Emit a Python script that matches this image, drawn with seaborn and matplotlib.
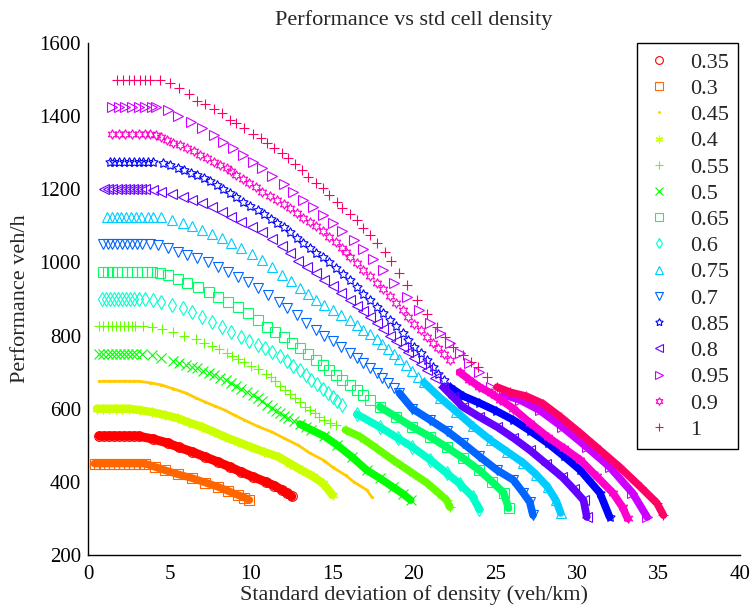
import colorsys
import pandas as pd
import matplotlib
matplotlib.use("Agg")
import matplotlib.pyplot as plt
from matplotlib.lines import Line2D
import seaborn as sns

# legend order of the series (demand ratio)
labels = ["0.35", "0.3", "0.45", "0.4", "0.55", "0.5", "0.65", "0.6",
          "0.75", "0.7", "0.85", "0.8", "0.95", "0.9", "1"]

# std of density (veh/km) and performance (veh/h)
x_035 = [0.7, 1.0, 1.3, 1.6, 1.9, 2.2, 2.5, 2.8, 3.1, 4.0, 4.9, 5.6, 6.4, 7.2, 8.0, 8.7,
         9.4, 10.1, 10.9, 11.4, 11.9, 12.2, 12.5]
y_035 = [525] * 9 + [517, 506, 494, 482, 468, 454, 441, 427, 414, 400, 390, 378, 370, 360]

x_030 = [0.4, 0.7, 1.0, 1.3, 1.6, 1.9, 2.2, 2.5, 2.8, 3.1, 3.5, 4.1, 4.7, 5.5, 6.4, 7.2,
         8.0, 8.6, 9.2, 9.6, 9.9]
y_030 = [450] * 11 + [441, 432, 421, 410, 398, 386, 375, 364, 357, 350]

x_045 = [0.7, 1.0, 1.3, 1.6, 1.9, 2.2, 2.5, 2.8, 3.1, 3.8, 4.5, 5.2, 6.0, 6.6, 7.2, 7.8,
         8.4, 9.0, 9.6, 10.4, 11.3, 12.0, 12.9, 13.6, 14.5, 15.0, 15.8, 16.3, 17.1, 17.4]
y_045 = [675] * 9 + [671, 665, 655, 643, 630, 618, 607, 596, 582, 569, 552, 536, 520, 500,
                     479, 458, 440, 418, 400, 378, 359]

x_040 = [0.55, 0.9, 1.3, 1.7, 2.1, 2.5, 3.2, 3.9, 4.7, 5.5, 6.2, 7.0, 7.7, 8.4, 9.2, 10.0,
         10.8, 11.7, 12.4, 13.1, 13.8, 14.4, 15.0]
y_040 = [600] * 6 + [596, 591, 583, 574, 562, 550, 537, 523, 509, 495, 482, 468, 450, 432,
                     415, 397, 364]

x_055 = [0.7, 0.95, 1.2, 1.45, 1.7, 1.95, 2.2, 2.45, 2.7, 2.9,
         3.4, 3.9, 4.55, 5.2, 5.9, 6.6, 7.1, 7.6, 8.05, 8.5, 8.85, 9.2, 9.6, 10.0, 10.45,
         10.9, 11.2, 11.5, 11.8, 12.1, 12.4, 12.7, 13.0, 13.3, 13.6, 13.9, 14.2, 14.5, 14.85,
         15.2, 15.8, 16.7, 17.7, 18.7, 19.7, 20.8, 21.5, 22.0, 22.2]
y_055 = [825] * 10 + [825, 823, 817, 810, 800, 790, 781, 771, 762, 752, 745, 737, 728, 718,
                      708, 696, 686, 675, 663, 651, 640, 628, 617, 605, 596, 587, 578, 569,
                      562, 555, 542, 523, 492, 460, 430, 397, 370, 350, 331]

x_050 = [0.7, 0.95, 1.2, 1.45, 1.7, 1.95, 2.2, 2.45, 2.7, 2.95, 3.3,
         3.9, 4.5, 5.2, 5.6, 6.0, 6.35, 6.7, 7.05, 7.4, 7.75, 8.1, 8.45, 8.8, 9.1, 9.4, 9.75,
         10.1, 10.4, 10.7, 11.0, 11.3, 11.55, 11.8, 12.05, 12.3, 12.65, 13.0, 13.35, 13.7,
         14.5, 15.3, 16.2, 17.1, 17.9, 18.7, 19.3, 19.8]
y_050 = [750] * 11 + [746, 739, 730, 725, 720, 715, 710, 704, 698, 692, 685, 678, 670, 663,
                      655, 647, 638, 629, 620, 611, 602, 595, 588, 581, 575, 566, 558, 550,
                      542, 525, 500, 468, 432, 410, 386, 368, 350]

x_065 = [0.9, 1.2, 1.5, 1.8, 2.1, 2.4, 2.7, 3.0, 3.3, 3.6, 3.9,
         4.4, 4.9, 5.5, 6.1, 6.75, 7.4, 8.0, 8.6, 9.2, 9.8, 10.4, 11.0, 11.5, 12.0, 12.5,
         13.0, 13.5, 14.0, 14.4, 14.8, 15.2, 15.6, 16.05, 16.5, 16.9, 17.3,
         17.9, 18.9, 19.9, 21.0, 22.0, 23.0, 24.0, 24.8, 25.5, 25.8]
y_065 = [975] * 11 + [971, 966, 956, 944, 932, 919, 906, 892, 877, 862, 843, 823, 810, 796,
                      781, 765, 749, 733, 720, 706, 692, 679, 665, 650, 637, 624,
                      605, 578, 550, 523, 495, 465, 432, 400, 370, 328]

x_060 = [0.85, 1.1, 1.35, 1.6, 1.85, 2.1, 2.35, 2.6, 2.85, 3.1, 3.5,
         4.0, 4.5, 5.15, 5.8, 6.4, 7.0, 7.6, 8.2, 8.8, 9.4, 9.9, 10.4, 10.85, 11.3, 11.75,
         12.2, 12.6, 13.0, 13.35, 13.7, 14.05, 14.4, 14.7, 15.0, 15.3, 15.6,
         16.5, 17.9, 19.0, 19.9, 21.0, 22.0, 22.8, 23.6, 24.0]
y_060 = [900] * 11 + [898, 892, 884, 875, 864, 851, 838, 823, 810, 796, 786, 775, 765, 755,
                      743, 730, 718, 705, 692, 679, 667, 655, 643, 632, 621, 610,
                      585, 550, 520, 495, 460, 424, 395, 359, 325]

x_075 = [1.15, 1.45, 1.75, 2.05, 2.35, 2.65, 2.95, 3.25, 3.7,
         4.0, 4.5, 5.15, 5.8, 6.4, 7.0, 7.6, 8.2, 8.8, 9.4, 10.05, 10.7, 11.3, 11.9, 12.45,
         13.0, 13.5, 14.0, 14.5, 15.0, 15.55, 16.1, 16.5, 16.9, 17.3, 17.7, 18.05, 18.4,
         18.75, 19.1, 19.5, 19.9, 20.25, 20.6,
         21.6, 22.6, 23.6, 24.7, 25.7, 26.7, 27.5, 28.2, 28.7, 29.0]
y_075 = [1125] * 9 + [1125, 1124, 1117, 1108, 1099, 1089, 1079, 1067, 1054, 1040, 1024, 1007,
                      987, 965, 948, 930, 914, 897, 884, 870, 857, 843, 829, 815, 803, 790,
                      777, 763, 749, 735, 719, 703, 688, 672,
                      630, 592, 553, 514, 483, 452, 420, 386, 350, 315]

x_070 = [0.9, 1.2, 1.5, 1.8, 2.1, 2.4, 2.7, 3.0, 3.3,
         3.8, 4.3, 4.9, 5.5, 6.1, 6.7, 7.35, 8.0, 8.6, 9.2, 9.8, 10.4, 11.05, 11.7, 12.2,
         12.8, 13.4, 14.0, 14.5, 15.0, 15.55, 16.1, 16.5, 16.9, 17.3, 17.7, 18.05, 18.4,
         18.75, 19.1,
         19.9, 21.0, 22.0, 23.0, 24.0, 25.1, 26.1, 26.7, 27.1, 27.3]
y_070 = [1050] * 9 + [1050, 1048, 1040, 1029, 1021, 1012, 1001, 988, 975, 960, 946, 930,
                      912, 892, 875, 855, 835, 815, 800, 785, 769, 752, 739, 725, 712, 698,
                      684, 670, 657, 643,
                      600, 569, 540, 506, 470, 432, 405, 370, 345, 309]

x_085 = [1.35, 1.6, 1.9, 2.2, 2.5, 2.8, 3.1, 3.4, 3.7, 4.0,
         4.6, 5.05, 5.5, 5.9, 6.3, 6.7, 7.1, 7.5, 7.9, 8.3, 8.7, 9.1, 9.5, 9.95, 10.4, 10.8,
         11.2, 11.6, 12.0, 12.4, 12.8, 13.2, 13.6, 14.0, 14.4, 14.8, 15.2, 15.65, 16.1, 16.5,
         16.9, 17.3, 17.7, 18.1, 18.5, 18.9, 19.3, 19.65, 20.0, 20.4, 20.8, 21.15, 21.5,
         21.85, 22.2,
         23.0, 24.0, 25.0, 26.1, 27.1, 28.2, 29.2, 30.2, 31.4, 32.0]
y_085 = [1275] * 10 + [1272, 1266, 1258, 1252, 1245, 1238, 1231, 1222, 1212, 1201, 1190, 1178,
                       1165, 1154, 1143, 1132, 1120, 1108, 1096, 1082, 1067, 1053, 1039, 1027,
                       1015, 1000, 985, 969, 952, 934, 915, 897, 878, 861, 843, 825, 807, 789,
                       770, 752, 733, 715, 696, 678, 659,
                       635, 616, 595, 569, 540, 506, 470, 432, 370, 304]

x_080 = [1.0, 1.25, 1.5, 1.75, 2.0, 2.25, 2.5, 2.75, 3.0, 3.25, 3.5,
         4.0, 4.5, 5.15, 5.8, 6.4, 7.0, 7.6, 8.2, 8.8, 9.4, 10.05, 10.7, 11.3, 11.9, 12.4,
         12.9, 13.45, 14.0, 14.5, 15.0, 15.55, 16.1, 16.5, 16.9, 17.3, 17.7, 18.1, 18.5,
         18.9, 19.3, 19.65, 20.0, 20.4, 20.8, 21.3, 21.8,
         22.4, 23.0, 24.0, 25.1, 26.1, 27.1, 28.1, 29.1, 29.8, 30.4, 30.6]
y_080 = [1200] * 11 + [1197, 1193, 1187, 1179, 1171, 1162, 1151, 1138, 1125, 1111, 1098, 1083,
                       1065, 1045, 1026, 1005, 988, 971, 953, 935, 916, 897, 882, 866, 850,
                       834, 817, 800, 785, 769, 754, 738, 722, 706, 683, 659,
                       632, 605, 578, 550, 520, 487, 450, 413, 380, 350, 304]

x_095 = [1.5, 1.9, 2.3, 2.7, 3.1, 3.5, 3.9, 4.2, 4.9, 5.5, 6.3, 7.0, 7.7, 8.3, 8.9, 9.5,
         10.1, 10.7, 11.3, 12.0, 12.6, 13.2, 13.8, 14.4, 15.0, 15.6, 16.3, 16.9, 17.5, 18.1,
         18.8, 19.6, 20.3, 21.0, 21.6, 22.2, 22.8, 23.4, 24.0, 24.7, 25.5, 26.5, 27.7, 29.1,
         30.6, 32.0, 33.4, 34.3]
y_095 = [1425] * 8 + [1417, 1400, 1384, 1368, 1348, 1329, 1313, 1294, 1275, 1258, 1237, 1215,
                      1193, 1171, 1152, 1130, 1108, 1087, 1061, 1038, 1010, 979, 945, 905, 870,
                      834, 808, 780, 752, 725, 700, 660, 638, 624, 596, 550, 495, 441, 370,
                      304]

x_090 = [1.5, 1.9, 2.3, 2.7, 3.1, 3.5, 3.8,
         4.15, 4.5, 4.85, 5.2, 5.65, 6.1, 6.5, 6.9, 7.3, 7.7, 8.1, 8.5, 8.8, 9.1, 9.5, 9.9,
         10.3, 10.7, 11.15, 11.6, 12.0, 12.4, 12.8, 13.2, 13.6, 14.0, 14.4, 14.8, 15.2, 15.6,
         15.85, 16.1, 16.5, 16.9, 17.3, 17.7, 18.1, 18.5, 18.9, 19.3, 19.65, 20.0, 20.4,
         20.8, 21.15, 21.5, 21.85, 22.2,
         22.8, 23.4, 24.0, 24.7, 25.3, 26.1, 27.1, 28.2, 29.2, 30.2, 31.2, 32.2, 32.8, 33.1]
y_090 = [1350] * 7 + [1348, 1343, 1336, 1327, 1320, 1313, 1304, 1294, 1285, 1275, 1267, 1258,
                      1249, 1239, 1228, 1217, 1205, 1193, 1182, 1171, 1160, 1149, 1136, 1122,
                      1111, 1100, 1086, 1070, 1056, 1040, 1028, 1015, 998, 980, 962, 944, 926,
                      907, 889, 870, 852, 833, 815, 796, 781, 765, 749, 733,
                      700, 679, 660, 643, 625, 600, 562, 523, 492, 460, 415, 370, 330, 300]

x_100 = [1.8, 2.15, 2.5, 2.85, 3.2, 3.5, 3.8, 4.4, 5.0, 5.6, 6.2, 6.7, 7.2, 7.7, 8.2, 8.7,
         9.1, 9.6, 10.1, 10.6, 11.0, 11.4, 11.9, 12.3, 12.7, 13.1, 13.5, 14.0, 14.4, 14.8,
         15.3, 15.6, 16.1, 16.5, 16.9, 17.3, 17.7, 18.2, 18.6, 19.1, 19.6, 20.2, 20.8, 21.4,
         21.9, 22.4, 23.0, 23.5, 23.9, 24.5, 25.1, 25.9, 26.9, 27.9, 29.0, 30.2, 31.4, 32.6,
         33.9, 34.9, 35.3]
y_100 = [1500] * 8 + [1490, 1477, 1460, 1441, 1433, 1420, 1409, 1390, 1381, 1368, 1351, 1340,
                      1327, 1313, 1299, 1286, 1269, 1253, 1234, 1217, 1203, 1184, 1165, 1149,
                      1132, 1116, 1094, 1075, 1053, 1029, 1005, 971, 937, 897, 860, 823, 796,
                      769, 748, 728, 714, 688, 659, 645, 634, 614, 577, 533, 487, 441, 386,
                      342, 309]

xs = [x_035, x_030, x_045, x_040, x_055, x_050, x_065, x_060,
      x_075, x_070, x_085, x_080, x_095, x_090, x_100]
ys = [y_035, y_030, y_045, y_040, y_055, y_050, y_065, y_060,
      y_075, y_070, y_085, y_080, y_095, y_090, y_100]

# styling: marker, where the dense band begins, band width
markers = ["o", "s", ".", (6, 2, 0), "+", "x", "s", "d",
           "^", "v", (5, 1, 0), "<", ">", (6, 1, 0), "+"]
band_from = [0, 0, 0, 0, 15.5, 13.0, 17.5, 16.0, 20.5, 19.0, 22.0, 21.5, 25.0, 22.5, 25.0]
band_lw = [6.5, 5.5, 2.0, 6.0, 5.5, 5.5, 5.5, 5.5, 5.5, 5.5, 5.5, 5.5, 5.5, 5.5, 5.5]
colors = [colorsys.hsv_to_rgb(i / 15, 1, 1) for i in range(15)]

sns.set_style("white")
plt.rcParams["font.family"] = ["Liberation Serif", "DejaVu Serif"]

fig = plt.figure(figsize=(7.53, 6.08), dpi=100)
ax = fig.add_axes([88 / 753, 1 - 555 / 608, 652 / 753, 512 / 608])

handles = []
for i, lab in enumerate(labels):
    df = pd.DataFrame({"x": xs[i], "y": ys[i]})
    tail = df[df["x"] >= band_from[i]]
    c = colors[i]
    sns.lineplot(data=tail, x="x", y="y", sort=False, estimator=None,
                 color=c, lw=band_lw[i], ax=ax, legend=False)
    ms = 3 if markers[i] == "." else 7
    fc = c if markers[i] == "." else "none"
    sns.lineplot(data=df, x="x", y="y", sort=False, estimator=None,
                 color=c, linestyle="", marker=markers[i], ms=ms,
                 mfc=fc, mec=c, mew=0.8, ax=ax, legend=False)
    handles.append(Line2D([], [], linestyle="", marker=markers[i], color=c,
                          ms=ms * 0.8, mfc=fc, mec=c, mew=0.8, label=lab))

ax.set_xlim(0, 40)
ax.set_ylim(200, 1600)
ax.set_xticks(range(0, 41, 5))
ax.set_yticks(range(200, 1601, 200))
ax.tick_params(direction="in", length=5, width=0.8, labelsize=15, colors="black")
ax.tick_params(axis="x", pad=7)
ax.tick_params(axis="y", pad=5)
for s in ["top", "right"]:
    ax.spines[s].set_visible(False)
for s in ["left", "bottom"]:
    ax.spines[s].set_color("black")
    ax.spines[s].set_linewidth(1.0)

ax.set_title("Performance vs std cell density", fontsize=16, pad=13)
ax.set_xlabel("Standard deviation of density (veh/km)", fontsize=16, labelpad=1)
ax.set_ylabel("Performance veh/h", fontsize=16, labelpad=7)

leg = ax.legend(handles=handles, loc="upper right", bbox_to_anchor=(1.0, 1.004),
                fontsize=16, frameon=True, fancybox=False, framealpha=1,
                edgecolor="black", handlelength=1.2, handletextpad=0.8,
                labelspacing=0.255, borderpad=0.4, borderaxespad=0.1)
leg.get_frame().set_linewidth(1.0)

fig.savefig("out.png", dpi=100)
